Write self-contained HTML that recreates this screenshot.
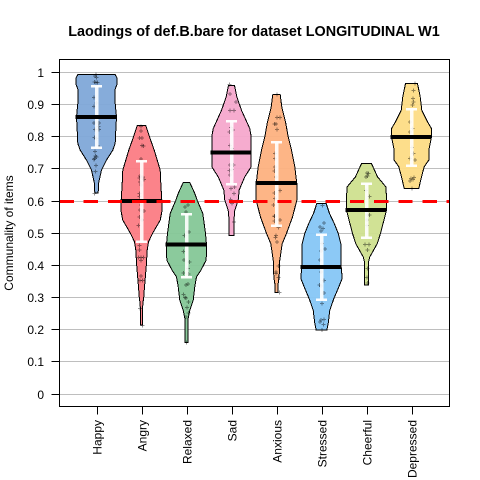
<!DOCTYPE html>
<html>
<head>
<meta charset="utf-8">
<title>Laodings of def.B.bare for dataset LONGITUDINAL W1</title>
<style>
html,body{margin:0;padding:0;background:#fff;}
svg{display:block;}
text{font-family:"Liberation Sans",Arial,sans-serif;fill:#000;}
</style>
</head>
<body>
<svg id="chart" xmlns="http://www.w3.org/2000/svg" width="480" height="480" viewBox="0 0 480 480">
<rect x="0" y="0" width="480" height="480" fill="#fff"/>
<text x="254" y="36" text-anchor="middle" font-size="14.4" font-weight="bold">Laodings of def.B.bare for dataset LONGITUDINAL W1</text>
<text transform="translate(13,233) rotate(-90)" text-anchor="middle" font-size="12">Communality of items</text>
<g id="grid"></g>
<g id="violins"></g>
<g id="points"></g>
<g id="whiskers"></g>
<g id="means"></g>
<g id="threshold"></g>
<g id="axes"></g>
</svg>
<script>
const categories = ["Happy","Angry","Relaxed","Sad","Anxious","Stressed","Cheerful","Depressed"];
const yTickValues = [0,0.1,0.2,0.3,0.4,0.5,0.6,0.7,0.8,0.9,1];
const yTickLabels = ["0","0.1","0.2","0.3","0.4","0.5","0.6","0.7","0.8","0.9","1"];
const thresholdValue = 0.6;
const fillColors = ["#7fa8d8","#fb7c84","#85c797","#f6a8cc","#fdb180","#86c6f5","#cfe08f","#fddc85"];

const means = [0.860,0.598,0.463,0.749,0.655,0.394,0.570,0.798];
const upperBounds = [0.956,0.723,0.558,0.847,0.781,0.494,0.653,0.884];
const lowerBounds = [0.765,0.472,0.361,0.651,0.522,0.292,0.485,0.709];

const happyLevels = [0.992,0.980,0.964,0.943,0.902,0.860,0.819,0.778,0.757,0.726,0.695,0.653,0.624];
const happyDensity = [56,62,62,55,56,60,58,56,49,30,15,6,5];
const angryLevels = [0.833,0.798,0.757,0.695,0.653,0.601,0.565,0.539,0.498,0.472,0.446,0.394,0.332,0.290,0.285,0.213];
const angryDensity = [13,24,38,56,58,61,61,56,33,21,17,14,9,6,4,3];
const relaxedLevels = [0.656,0.622,0.601,0.560,0.498,0.463,0.415,0.383,0.363,0.332,0.290,0.259,0.228,0.158];
const relaxedDensity = [10,25,32,49,57,60,59,43,30,25,20,10,4,4];
const sadLevels = [0.958,0.923,0.881,0.824,0.798,0.746,0.705,0.674,0.633,0.601,0.570,0.549,0.492];
const sadDensity = [9,16,30,55,59,59,59,40,23,20,10,8,7];
const anxiousLevels = [0.930,0.891,0.840,0.798,0.757,0.705,0.653,0.601,0.549,0.498,0.466,0.409,0.363,0.342,0.314];
const anxiousDensity = [11,16,28,35,45,55,61,61,48,30,17,9,8,5,5];
const stressedLevels = [0.591,0.560,0.529,0.498,0.466,0.394,0.358,0.327,0.295,0.259,0.218,0.197];
const stressedDensity = [14,24,38,50,58,59,62,50,37,25,20,16];
const cheerfulLevels = [0.715,0.674,0.643,0.612,0.570,0.498,0.466,0.425,0.409,0.338];
const cheerfulDensity = [15,33,58,60,60,42,32,10,6,6];
const depressedLevels = [0.964,0.923,0.881,0.845,0.824,0.798,0.757,0.726,0.705,0.674,0.638];
const depressedDensity = [18,26,31,48,60,60,52,52,38,30,22];

const happyPoints = [0.993,0.987,0.983,0.969,0.967,0.967,0.921,0.904,0.892,0.842,0.842,0.831,0.821,0.821,0.796,0.793,0.767,0.752,0.738,0.731,0.736,0.728,0.709,0.690,0.622];
const happyJitter = [-0.01,-0.03,0,-0.04,-0.01,0.02,-0.06,0,-0.06,0.06,-0.06,0.04,-0.03,0.06,-0.05,0,0.05,-0.03,-0.02,-0.05,0,-0.06,-0.01,-0.02,-0.05];
const angryPoints = [0.831,0.816,0.794,0.794,0.772,0.770,0.729,0.676,0.674,0.670,0.666,0.658,0.648,0.622,0.612,0.586,0.568,0.570,0.549,0.539,0.523,0.461,0.446,0.423,0.423,0.423,0.413,0.365,0.352,0.352,0.264,0.211];
const angryJitter = [-0.01,-0.01,-0.04,0.01,0.01,0.04,-0.01,-0.03,0.03,-0.04,0.06,-0.03,-0.01,-0.05,-0.04,-0.01,0.06,-0.03,-0.04,0.01,-0.07,-0.05,-0.04,-0.07,-0.01,0.04,-0.01,-0.01,0.02,-0.03,-0.03,0.02];
const relaxedPoints = [0.586,0.580,0.565,0.492,0.503,0.503,0.441,0.415,0.409,0.389,0.375,0.371,0.337,0.340,0.308,0.297,0.298,0.285,0.267,0.251,0.238,0.158];
const relaxedJitter = [0.03,-0.03,-0.01,-0.05,0.05,0.01,-0.07,-0.06,0.07,0.03,-0.07,0.04,-0.01,0.03,-0.07,-0.01,-0.03,0.04,0.01,0.04,-0.01,0];
const sadPoints = [0.961,0.931,0.907,0.881,0.881,0.827,0.814,0.819,0.772,0.762,0.710,0.710,0.694,0.697,0.679,0.643,0.637,0.622,0.604,0.591,0.534];
const sadJitter = [-0.04,-0.03,0.10,-0.03,0.06,-0.01,-0.04,0.03,-0.03,0.01,-0.03,0.04,-0.04,0.01,-0.03,0.07,-0.01,0.06,-0.02,0.01,0.06];
const anxiousPoints = [0.930,0.858,0.858,0.838,0.838,0.821,0.746,0.731,0.705,0.692,0.674,0.624,0.632,0.606,0.586,0.552,0.551,0.536,0.539,0.516,0.492,0.485,0.472,0.396,0.378,0.361,0.314,0.373];
const anxiousJitter = [0.01,0.01,0.08,-0.05,-0.01,0.01,-0.03,-0.03,-0.03,-0.04,-0.01,-0.05,0.08,-0.03,-0.07,-0.05,-0.05,-0.05,0.08,0.04,-0.01,-0.02,0.01,0.04,-0.01,0.04,0.07,-0.01];
const stressedPoints = [0.584,0.518,0.513,0.506,0.531,0.466,0.449,0.444,0.415,0.378,0.352,0.337,0.334,0.313,0.280,0.228,0.230,0.223,0.215,0.197];
const stressedJitter = [0.02,-0.03,0.03,-0.01,0.06,0.01,0.08,-0.01,-0.03,-0.01,0.06,-0.05,-0.01,0.06,0.01,-0.01,0.06,-0.03,0.04,0.01];
const cheerfulPoints = [0.686,0.684,0.676,0.674,0.632,0.612,0.555,0.555,0.539,0.523,0.464,0.464,0.446,0.361,0.344,0.389];
const cheerfulJitter = [0.01,0.04,0.02,-0.01,-0.01,0.07,0.02,0.07,0.01,0.01,-0.03,0.06,0.02,0.01,0.02,0.02];
const depressedPoints = [0.964,0.943,0.917,0.907,0.897,0.845,0.824,0.814,0.765,0.746,0.731,0.726,0.669,0.666,0.672,0.661,0.637];
const depressedJitter = [0.08,0.04,0.03,0.04,0.02,-0.03,0.02,-0.03,0.01,0.04,-0.03,0.08,-0.01,0.03,0.06,-0.03,0.01];

const levelsBySeries = [happyLevels,angryLevels,relaxedLevels,sadLevels,anxiousLevels,stressedLevels,cheerfulLevels,depressedLevels];
const densityBySeries = [happyDensity,angryDensity,relaxedDensity,sadDensity,anxiousDensity,stressedDensity,cheerfulDensity,depressedDensity];
const pointsBySeries = [happyPoints,angryPoints,relaxedPoints,sadPoints,anxiousPoints,stressedPoints,cheerfulPoints,depressedPoints];
const jitterBySeries = [happyJitter,angryJitter,relaxedJitter,sadJitter,anxiousJitter,stressedJitter,cheerfulJitter,depressedJitter];

const NS = "http://www.w3.org/2000/svg";
const plotLeft = 59.5, plotRight = 449.5, plotTop = 59.5, plotBottom = 406.5;
function xScale(i){ return 96.5 + 45 * i; }
function yScale(v){ return 393.5 - 321.5 * v; }
function widthScale(d){ return d / 3; }
function jitterScale(j){ return j * 45; }
function make(tag, attrs, parent){
  const el = document.createElementNS(NS, tag);
  for (const k in attrs) el.setAttribute(k, attrs[k]);
  parent.appendChild(el);
  return el;
}
function slug(s){ return s.toLowerCase(); }

const gridG = document.getElementById("grid");
const violinsG = document.getElementById("violins");
const pointsG = document.getElementById("points");
const whiskersG = document.getElementById("whiskers");
const meansG = document.getElementById("means");
const thresholdG = document.getElementById("threshold");
const axesG = document.getElementById("axes");

yTickValues.forEach(function(v, i){
  const y = Math.round(yScale(v)) + 0.5;
  const g = make("line", {x1:plotLeft, x2:plotRight, y1:y, y2:y, stroke:"#bebebe", "stroke-width":1, "shape-rendering":"crispEdges"}, gridG);
  
  
  const t = make("line", {x1:plotLeft - 8, x2:plotLeft, y1:y, y2:y, stroke:"#000", "stroke-width":1, "shape-rendering":"crispEdges"}, axesG);
  
  
  const l = make("text", {x:44, y:y + 4.5, "text-anchor":"end", "font-size":12}, axesG);
  
  
  l.textContent = yTickLabels[i];
});

categories.forEach(function(name, i){
  const cx = xScale(i);
  const levels = levelsBySeries[i];
  const density = densityBySeries[i];
  const left = levels.map(function(v, k){ return (cx - widthScale(density[k])).toFixed(1) + "," + yScale(v).toFixed(1); });
  const right = levels.map(function(v, k){ return (cx + widthScale(density[k])).toFixed(1) + "," + yScale(v).toFixed(1); }).reverse();
  const poly = make("polygon", {points:left.concat(right).join(" "), fill:fillColors[i], "fill-opacity":0.95, stroke:"#000", "stroke-width":1, "stroke-linejoin":"miter", "shape-rendering":"crispEdges"}, violinsG);
  
  

  pointsBySeries[i].forEach(function(v, k){
    const px = cx + jitterScale(jitterBySeries[i][k]);
    const py = yScale(v);
    const mark = make("path", {d:"M" + (px - 2).toFixed(1) + " " + py.toFixed(1) + "H" + (px + 2).toFixed(1) + "M" + px.toFixed(1) + " " + (py - 2).toFixed(1) + "V" + (py + 2).toFixed(1), stroke:"#000", "stroke-opacity":0.42, "stroke-width":1, fill:"none", "shape-rendering":"crispEdges"}, pointsG);
    
    
  });

  const hi = yScale(upperBounds[i]), lo = yScale(lowerBounds[i]);
  const stem = make("line", {x1:cx, x2:cx, y1:hi, y2:lo, stroke:"#fff", "stroke-opacity":0.9, "stroke-width":3.5, "shape-rendering":"crispEdges"}, whiskersG);
  
  
  const capHi = make("line", {x1:cx - 5.5, x2:cx + 5.5, y1:hi, y2:hi, stroke:"#fff", "stroke-opacity":0.95, "stroke-width":2.6, "shape-rendering":"crispEdges"}, whiskersG);
  
  
  const capLo = make("line", {x1:cx - 5.5, x2:cx + 5.5, y1:lo, y2:lo, stroke:"#fff", "stroke-opacity":0.95, "stroke-width":2.6, "shape-rendering":"crispEdges"}, whiskersG);
  
  

  const my = yScale(means[i]);
  const mean = make("line", {x1:cx - 21, x2:cx + 20, y1:my, y2:my, stroke:"#000", "stroke-width":4, "shape-rendering":"crispEdges"}, meansG);
  
  

  const tick = make("line", {x1:Math.round(cx) + 0.5, x2:Math.round(cx) + 0.5, y1:plotBottom, y2:plotBottom + 8, stroke:"#000", "stroke-width":1, "shape-rendering":"crispEdges"}, axesG);
  
  
  const label = make("text", {transform:"translate(" + (cx + 5) + ",420) rotate(-90)", "text-anchor":"end", "font-size":12}, axesG);
  
  
  label.textContent = name;
});

const ty = Math.round(yScale(thresholdValue)) + 0.5;
const dashLine = make("line", {x1:plotLeft, x2:plotRight, y1:ty, y2:ty, stroke:"#ff0000", "stroke-width":3, "stroke-dasharray":"14.3 9.9", "shape-rendering":"crispEdges"}, thresholdG);



const box = make("rect", {x:plotLeft, y:plotTop, width:plotRight - plotLeft, height:plotBottom - plotTop, fill:"none", stroke:"#000", "stroke-width":1, "shape-rendering":"crispEdges"}, axesG);


</script>
</body>
</html>
